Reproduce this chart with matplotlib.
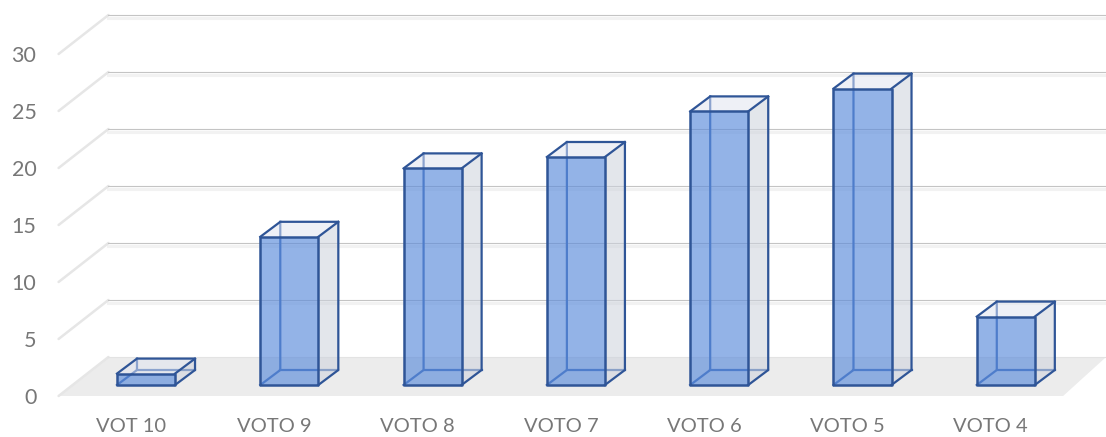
import matplotlib
matplotlib.use("Agg")
import matplotlib.pyplot as plt
from matplotlib.patches import Polygon

categories = ["VOT 10", "VOTO 9", "VOTO 8", "VOTO 7", "VOTO 6", "VOTO 5", "VOTO 4"]
values = [1, 13, 19, 20, 24, 26, 6]
y_ticks = [0, 5, 10, 15, 20, 25, 30]

BAR_W = 0.405
DX, DY = 0.1396, 1.316          # bar depth
FRONT_Y, BACK_Y = -0.965, 2.456  # floor front/back edge relative to the value
LEFT_F, LEFT_B = -0.61, -0.262
RIGHT_F, RIGHT_B = 6.40, 6.70

EDGE = "#2f5597"
GREY = "#777777"

plt.rcParams["font.family"] = ["Lato", "DejaVu Sans"]

fig = plt.figure(figsize=(11.06, 4.37), dpi=100)
ax = fig.add_axes([0, 0, 1, 1])
ax.set_xlim(-146 / 143.3, (1106 - 146) / 143.3)
ax.set_ylim(-52 / 11.4, 385 / 11.4)
ax.axis("off")

# floor
ax.add_patch(Polygon([(LEFT_F, FRONT_Y), (RIGHT_F, FRONT_Y), (RIGHT_B, BACK_Y), (LEFT_B, BACK_Y)],
                     fc="#ececec", ec="none", zorder=1))

# gridlines on the side wall and back wall
for v in y_ticks:
    ax.plot([LEFT_F, LEFT_B], [v + FRONT_Y, v + BACK_Y], color="#e6e6e6", lw=1.8, zorder=1.2,
            solid_capstyle="round")
    if v > 0:
        ax.plot([LEFT_B, RIGHT_B], [v + BACK_Y - 0.22, v + BACK_Y - 0.22], color="#f2f2f2", lw=2.2, zorder=1.1)
        ax.plot([LEFT_B, RIGHT_B], [v + BACK_Y, v + BACK_Y], color="#c4c4c4", lw=0.8, zorder=1.2)
    else:
        ax.plot([LEFT_B, RIGHT_B], [v + BACK_Y, v + BACK_Y], color="#e3e3e3", lw=0.8, zorder=1.2)
    ax.text(-0.765, v + FRONT_Y - 0.2, str(v), color=GREY, fontsize=15.5, ha="right", va="center")

for i, (name, v) in enumerate(zip(categories, values)):
    l, r = i - BAR_W / 2, i + BAR_W / 2
    z = 2 + i * 0.01
    # back edges, seen through the front face
    ax.plot([l, l + DX, l + DX], [0, DY, v + DY], color="#3a64ae", lw=1.6, zorder=z)
    ax.plot([l + DX, r + DX], [DY, DY], color="#3a64ae", lw=1.6, zorder=z)
    # top, side and front
    ax.add_patch(Polygon([(l, v), (r, v), (r + DX, v + DY), (l + DX, v + DY)],
                         fc="#dfe3ee", alpha=0.5, ec="none", zorder=z))
    ax.add_patch(Polygon([(r, 0), (r + DX, DY), (r + DX, v + DY), (r, v)],
                         fc="#cdd2dc", alpha=0.55, ec="none", zorder=z))
    ax.add_patch(Polygon([(l, 0), (r, 0), (r, v), (l, v)],
                         fc="#5a8bdb", alpha=0.65, ec="none", zorder=z + 0.001))
    # outline
    ax.add_patch(Polygon([(l, 0), (r, 0), (r, v), (l, v)], fill=False, ec=EDGE, lw=1.8,
                         joinstyle="round", zorder=z + 0.002))
    ax.plot([l, l + DX, r + DX, r + DX, r], [v, v + DY, v + DY, DY, 0], color=EDGE, lw=1.6,
            solid_joinstyle="round", zorder=z + 0.002)
    ax.plot([r, r + DX], [v, v + DY], color=EDGE, lw=1.6, zorder=z + 0.002)
    ax.text(i - 0.105, -3.6, name, color=GREY, fontsize=14.5, ha="center", va="center")

fig.savefig("out.png", dpi=100)
